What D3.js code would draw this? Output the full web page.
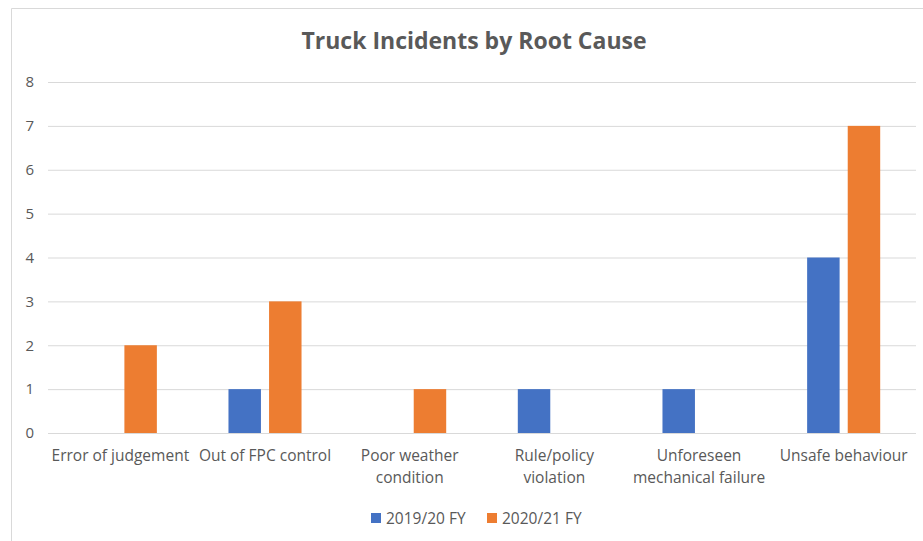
<!DOCTYPE html>
<html>
<head>
<meta charset="utf-8">
<script src="https://cdn.jsdelivr.net/npm/d3@7"></script>
<style>
  body { margin: 0; background: #fff; }
  text { font-family: "Open Sans", "Liberation Sans", sans-serif; fill: #595959; }
</style>
</head>
<body>
<div id="chart"></div>
<script>
// Chart data
const categories = ["Error of judgement", "Out of FPC control", "Poor weather condition",
  "Rule/policy violation", "Unforeseen mechanical failure", "Unsafe behaviour"];
const tickLabels = [["Error of judgement"], ["Out of FPC control"], ["Poor weather", "condition"],
  ["Rule/policy", "violation"], ["Unforeseen", "mechanical failure"], ["Unsafe behaviour"]];
const seriesNames = ["2019/20 FY", "2020/21 FY"];
const fy1920 = [0, 1, 0, 1, 1, 4];
const fy2021 = [2, 3, 1, 0, 0, 7];
const yTicks = [0, 1, 2, 3, 4, 5, 6, 7, 8];
const colors = ["#4472C4", "#ED7D31"];

const W = 923, H = 541;
const margin = { top: 82, right: 7, bottom: 108, left: 48 };
const width = W - margin.left - margin.right;
const height = H - margin.top - margin.bottom;

const svg = d3.select("#chart").append("svg")
  .attr("width", W)
  .attr("height", H);

// chart area border (only top and left visible in the crop)
svg.append("path")
  .attr("d", "M11.5," + H + "V8.5H" + W)
  .attr("fill", "none")
  .attr("stroke", "#d9d9d9");

svg.append("text")
  .attr("x", 474)
  .attr("y", 49)
  .attr("text-anchor", "middle")
  .style("font-size", "23px")
  .style("font-weight", "bold")
  .text("Truck Incidents by Root Cause");

const g = svg.append("g")
  .attr("transform", `translate(${margin.left},${margin.top})`);

const x0 = d3.scaleBand()
  .domain(categories)
  .range([0, width])
  .paddingInner(0.495)
  .paddingOuter(0.2475);

const x1 = d3.scaleBand()
  .domain(seriesNames)
  .range([0, x0.bandwidth()])
  .paddingInner(0.2);

const y = d3.scaleLinear()
  .domain([0, 8])
  .range([height, 0]);

// gridlines + y labels
const yAxis = d3.axisLeft(y)
  .tickValues(yTicks)
  .tickSize(-width)
  .tickPadding(14);

g.append("g")
  .attr("class", "y axis")
  .call(yAxis)
  .call(a => a.select(".domain").remove())
  .call(a => a.selectAll("line").attr("stroke", "#d9d9d9"))
  .call(a => a.selectAll("text").style("font-size", "15px").attr("fill", "#595959"));

// bars
const rows = categories.map((c, i) => ({ cat: c, vals: [fy1920[i], fy2021[i]] }));

const groups = g.selectAll(".grp")
  .data(rows)
  .enter().append("g")
  .attr("class", "grp")
  .attr("transform", d => `translate(${x0(d.cat)},0)`);

groups.selectAll("rect")
  .data(d => d.vals.map((v, j) => ({ name: seriesNames[j], v: v, j: j })))
  .enter().append("rect")
  .attr("x", d => x1(d.name))
  .attr("y", d => y(d.v))
  .attr("width", x1.bandwidth())
  .attr("height", d => height - y(d.v))
  .attr("fill", d => colors[d.j]);

// x axis labels (wrapped)
const xAxis = d3.axisBottom(x0).tickSize(0).tickFormat("");
const xg = g.append("g")
  .attr("transform", `translate(0,${height})`)
  .call(xAxis);
xg.select(".domain").remove();

xg.selectAll(".tick").each(function (d, i) {
  const t = d3.select(this).append("text")
    .attr("text-anchor", "middle")
    .style("font-size", "15.5px")
    .attr("y", 28);
  tickLabels[i].forEach((line, k) => {
    t.append("tspan").attr("x", 0).attr("dy", k === 0 ? 0 : 22).text(line);
  });
});

// legend
const legend = svg.append("g").attr("transform", "translate(371,513)");
const legX = [0, 116];
seriesNames.forEach((s, i) => {
  legend.append("rect")
    .attr("x", legX[i]).attr("y", 0)
    .attr("width", 10).attr("height", 10)
    .attr("fill", colors[i]);
  legend.append("text")
    .attr("x", legX[i] + 15).attr("y", 10.5)
    .style("font-size", "15.5px")
    .text(s);
});
</script>
</body>
</html>
